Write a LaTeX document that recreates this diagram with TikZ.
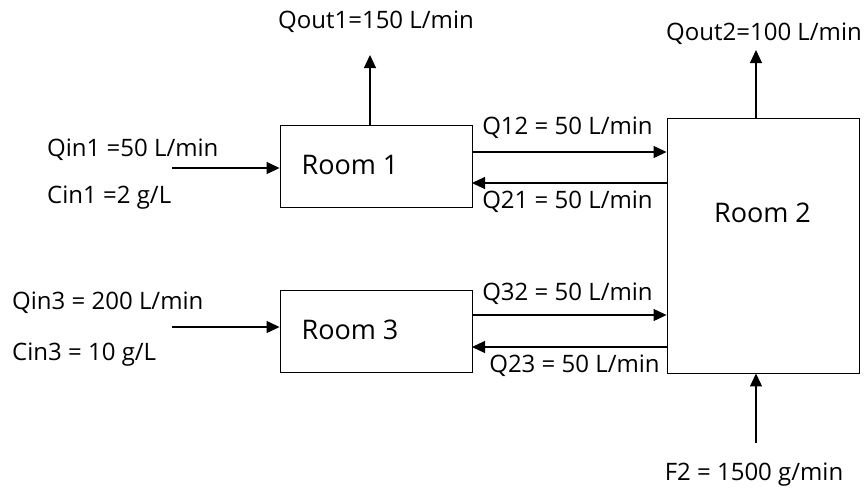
\documentclass[tikz,border=0pt]{standalone}
\usepackage{fontspec}
\setmainfont{Open Sans}
\usetikzlibrary{arrows.meta}
\begin{document}
\begin{tikzpicture}[x=1pt,y=-1pt,
  room/.style={draw, line width=0.9pt, inner sep=0pt},
  flow/.style={line width=1.1pt, -{Triangle[length=13pt,width=12pt]}},
  lbl/.style={font=\fontsize{24}{28}\selectfont, inner sep=0pt, anchor=base},
  lbll/.style={lbl, anchor=base west},
  rlbl/.style={font=\fontsize{27}{32}\selectfont, inner sep=0pt}]
\useasboundingbox (0,0) rectangle (865,491);
% rooms
\node[room, minimum width=192pt, minimum height=82pt] (r1) at (376,166) {};
\node[room, minimum width=192pt, minimum height=255pt] (r2) at (763,245.5) {};
\node[room, minimum width=192pt, minimum height=82pt] (r3) at (376,331) {};
\node[rlbl] (t1) at (350,165) {Room 1};
\node[rlbl] (t2) at (762.5,213) {Room 2};
\node[rlbl] (t3) at (350,330) {Room 3};
% coordinates for free ends
\coordinate (o1) at (370,55);
\coordinate (o2) at (756,50);
\coordinate (f2) at (756,443);
\coordinate (i1) at (172,168);
\coordinate (i3) at (172,327);
% flows
\draw[flow] (r1.north -| o1) -- (o1);
\draw[flow] (r2.north -| o2) -- (o2);
\draw[flow] (f2) -- (f2 |- r2.south);
\draw[flow] (i1) -- (i1 -| r1.west);
\draw[flow] (i3) -- (i3 -| r3.west);
\coordinate (a12) at (472,152);
\coordinate (a21) at (472,183);
\coordinate (a32) at (472,315);
\coordinate (a23) at (472,347);
\draw[flow] (a12) -- (a12 -| r2.west);
\draw[flow] (a21 -| r2.west) -- (a21);
\draw[flow] (a32) -- (a32 -| r2.west);
\draw[flow] (a23 -| r2.west) -- (a23);
% labels
\node[lbl] (lo1) at (376,28) {Qout1=150 L/min};
\node[lbl] (lo2) at (764,40) {Qout2=100 L/min};
\node[lbl] (l12) at (567.5,134) {Q12 = 50 L/min};
\node[lbl] (l21) at (567.5,208) {Q21 = 50 L/min};
\node[lbl] (l32) at (567.5,300) {Q32 = 50 L/min};
\node[lbl] (l23) at (574.5,372) {Q23 = 50 L/min};
\node[lbll] (qi1) at (47,156) {Qin1 =50 L/min};
\node[lbll] (ci1) at (47,203) {Cin1 =2 g/L};
\node[lbll] (qi3) at (12,309) {Qin3 = 200 L/min};
\node[lbll] (ci3) at (12,360) {Cin3 = 10 g/L};
\node[lbl] (lf2) at (754,480) {F2 = 1500 g/min};
\end{tikzpicture}
\end{document}
